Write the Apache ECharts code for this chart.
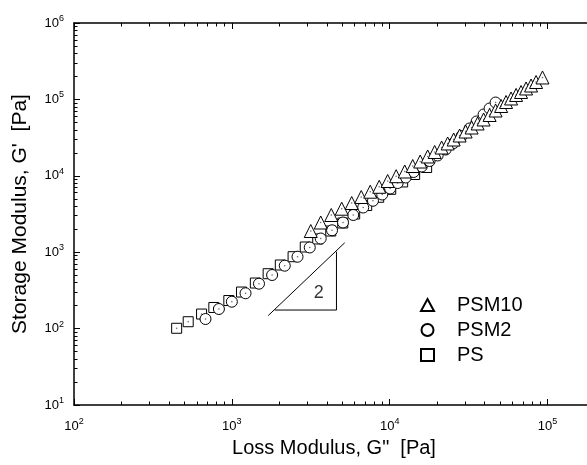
<!DOCTYPE html>
<html>
<head>
<meta charset="utf-8">
<script src="https://cdn.jsdelivr.net/npm/echarts@6/dist/echarts.min.js"></script>
<style>
html, body { margin: 0; padding: 0; background: #fff; }
#chart { width: 587px; height: 465px; }
</style>
</head>
<body>
<div id="chart"></div>
<script>
// loss modulus G'' [Pa] vs storage modulus G' [Pa]
const psLoss = [447, 529, 643, 769, 957, 1151, 1409, 1698, 2028, 2443, 2918, 3501, 4233, 5043, 6000, 7150, 8518, 10150, 12080, 14390, 17140]
const psStorage = [101, 123, 155, 189, 233, 301, 395, 523, 680, 873, 1170, 1489, 1893, 2410, 3162, 4083, 5234, 6656, 8300, 10400, 12850]

const psm2Loss = [681, 828, 1000, 1221, 1486, 1799, 2164, 2606, 3116, 3656, 4312, 5061, 5875, 6795, 7836, 8970, 10070, 11240, 12630, 14180, 15950, 17910, 20130, 22620, 25420, 28560, 32090, 35540, 39350, 42950, 46870]
const psm2Storage = [133.5, 180.5, 225, 290, 387, 503, 666, 873, 1153, 1511, 1936, 2448, 3069, 3846, 4710, 5690, 6820, 8050, 9500, 11220, 13240, 15630, 18450, 22080, 26860, 33200, 41600, 51400, 63400, 76000, 91000]

const psm10Loss = [3162, 3656, 4265, 4966, 5745, 6603, 7530, 8585, 9709, 10990, 12450, 13990, 15600, 17400, 19270, 21330, 23290, 25420, 27740, 30270, 33040, 36060, 39350, 42950, 46870, 50800, 54600, 58750, 63200, 67950, 73100, 78650, 84600, 92900]
const psm10Storage = [1893, 2448, 3069, 3708, 4405, 5280, 6190, 7180, 8550, 9880, 11380, 13430, 15380, 17900, 20500, 23450, 26490, 29860, 33680, 38000, 42870, 48400, 54600, 62500, 71600, 82000, 92500, 102800, 114300, 125000, 139000, 152000, 169000, 193600]

// slope-2 guide triangle
const slopeHyp = [[1700, 148], [5190, 1330]]
const slopeLegs = [[1870, 175], [4600, 175], [4600, 1016]]
const slopeText = [[3556, 290]]

const xMajor = [1e2, 1e3, 1e4, 1e5]
const yMajor = [1e1, 1e2, 1e3, 1e4, 1e5, 1e6]
const xMax = 177828 // plot frame runs past the right edge of the picture

function minorsOf(majors) {
  const out = []
  for (let i = 0; i < majors.length - 1; i++) {
    for (let k = 2; k <= 9; k++) out.push(k * majors[i])
  }
  return out
}

const font = "'Liberation Sans', Arial, Helvetica, sans-serif"
const zip = (a, b) => a.map((v, i) => [v, b[i]])

const labelRich = {
  b: { fontSize: 13, color: '#000', fontFamily: font, lineHeight: 18 },
  s: { fontSize: 9, color: '#000', fontFamily: font, verticalAlign: 'top', lineHeight: 9 }
}
const expLabel = v => '{b|10}{s|' + Math.round(Math.log10(v)) + '}'

function axis(pos, min, max, ticks, len, showLine, label) {
  return {
    type: 'log',
    logBase: 10,
    position: pos,
    min: min,
    max: max,
    axisLine: { show: showLine, onZero: false, lineStyle: { color: '#000', width: 1.5 } },
    axisTick: { show: true, inside: true, length: len, customValues: ticks, lineStyle: { color: '#000', width: 1 } },
    axisLabel: label ? {
      show: true, customValues: ticks, margin: label, formatter: expLabel, rich: labelRich
    } : { show: false },
    splitLine: { show: false }
  }
}

function markerSeries(name, symbol, size, data) {
  return {
    name: name,
    type: 'scatter',
    symbol: symbol,
    symbolSize: size,
    data: data,
    itemStyle: { color: '#fff', borderColor: '#000', borderWidth: 1, opacity: 1 },
    emphasis: { disabled: true }
  }
}

function dotSeries(data) {
  return {
    type: 'scatter',
    symbol: 'circle',
    symbolSize: 1.6,
    silent: true,
    data: data,
    itemStyle: { color: '#444' }
  }
}

const xMinor = minorsOf([1e2, 1e3, 1e4, 1e5, 1e6]).filter(v => v < xMax)

const chart = echarts.init(document.getElementById('chart'), null, { renderer: 'canvas' })
chart.setOption({
  animation: false,
  backgroundColor: '#fff',
  grid: { left: 74, top: 23, right: 0, bottom: 60, outerBoundsMode: 'none' },
  xAxis: [
    axis('bottom', 1e2, xMax, xMajor, 6, true, 12),
    axis('bottom', 1e2, xMax, xMinor, 3.5, false, 0),
    axis('top', 1e2, xMax, xMajor, 6, true, 0),
    axis('top', 1e2, xMax, xMinor, 3.5, false, 0)
  ],
  yAxis: [
    axis('left', 1e1, 1e6, yMajor, 6, true, 10),
    axis('left', 1e1, 1e6, minorsOf(yMajor), 3.5, false, 0)
  ],
  legend: {
    orient: 'vertical',
    left: 415,
    top: 290,
    itemWidth: 13,
    itemHeight: 12,
    itemGap: 5,
    data: ['PSM10', 'PSM2', 'PS'],
    textStyle: { fontSize: 20, color: '#000', fontFamily: font, padding: [0, 0, 0, 18] }
  },
  graphic: [
    {
      type: 'text', x: 334, y: 448,
      style: { text: 'Loss Modulus, G"  [Pa]', fontSize: 20, fontFamily: font, fill: '#000', align: 'center', verticalAlign: 'middle' }
    },
    {
      type: 'text', x: 20, y: 214, rotation: Math.PI / 2,
      style: { text: "Storage Modulus, G'  [Pa]", fontSize: 21, fontFamily: font, fill: '#000', align: 'center', verticalAlign: 'middle' }
    }
  ],
  series: [
    markerSeries('PS', 'rect', 10, zip(psLoss, psStorage)),
    dotSeries(zip(psLoss, psStorage)),
    markerSeries('PSM2', 'circle', 11, zip(psm2Loss, psm2Storage)),
    dotSeries(zip(psm2Loss, psm2Storage)),
    markerSeries('PSM10', 'triangle', 13, zip(psm10Loss, psm10Storage)),
    dotSeries(zip(psm10Loss, psm10Storage)),
    {
      type: 'line', data: slopeHyp, symbol: 'none', silent: true,
      lineStyle: { color: '#000', width: 1 }
    },
    {
      type: 'line', data: slopeLegs, symbol: 'none', silent: true,
      lineStyle: { color: '#000', width: 1 }
    },
    {
      type: 'scatter', data: slopeText, symbolSize: 1, silent: true,
      itemStyle: { color: 'rgba(0,0,0,0)' },
      label: { show: true, position: 'inside', formatter: '2', fontSize: 18, color: '#000', fontFamily: font }
    }
  ]
})
</script>
</body>
</html>
